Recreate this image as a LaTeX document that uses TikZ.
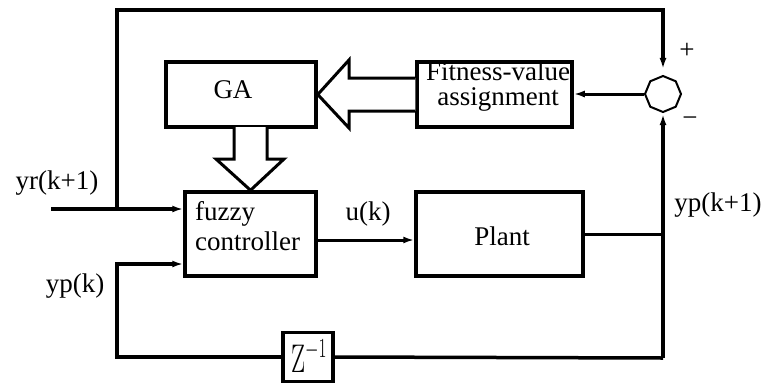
\documentclass[tikz,border=0pt]{standalone}
\usepackage{fontspec}
\setmainfont{Liberation Serif}
\newfontfamily\lmfont{Latin Modern Roman}
\usetikzlibrary{arrows.meta,shapes.geometric}
\begin{document}
\begin{tikzpicture}[x=1pt,y=-1pt,
  blk/.style={draw,line width=3.5pt,inner sep=0pt},
  wire/.style={line width=3.5pt},
  thinwire/.style={line width=3pt},
  arr/.style={-{Latex[length=11pt,width=7pt]}},
  txt/.style={font=\fontsize{27}{25}\selectfont,inner sep=0pt},
  fat/.style={line width=3pt,fill=white,line join=miter}]
\useasboundingbox (0,0) rectangle (765,386);

% blocks
\node[blk,minimum width=150pt,minimum height=65pt] (ga) at (241,94.5) {};
\node[blk,minimum width=155pt,minimum height=65pt] (fit) at (494.5,94.5) {};
\node[blk,minimum width=131pt,minimum height=84pt] (fuzzy) at (250.5,234) {};
\node[blk,minimum width=167pt,minimum height=84pt] (plant) at (499.5,234) {};
\node[blk,minimum width=50pt,minimum height=49pt] (z) at (308,357) {};
\node[draw,line width=2pt,regular polygon,regular polygon sides=8,
      regular polygon rotate=22.5,minimum size=36pt,inner sep=0pt] (sum) at (663,94) {};

% block texts (base anchor = baseline of the last line)
\node[txt,anchor=base] (gat) at (233,98) {GA};
\node[txt,anchor=base,align=center] (fitt) at (498,105) {Fitness-value\\assignment};
\node[txt,anchor=base west,align=left,font=\fontsize{27}{30}\selectfont] (fuzt) at (195,250) {fuzzy\\controller};
\node[txt,anchor=base] (plt) at (502,245) {Plant};
\node[inner sep=0pt,font=\lmfont\fontsize{25}{28}\selectfont] (zt) at (309,356) {\scalebox{1}[1.6]{Z$^{-1}$}};

% signal labels
\node[txt,anchor=base] (yr) at (57,189) {yr(k+1)};
\node[txt,anchor=base] (ypk) at (75,292) {yp(k)};
\node[txt,anchor=base] (ypk1) at (718,211) {yp(k+1)};
\node[txt,anchor=base] (uk) at (368,220) {u(k)};
\node[txt] (plus) at (687,51) {+};
\node[txt] (minus) at (690,122) {−};

% junction points
\coordinate (yrin) at (51,209);
\coordinate (yrj) at (117,209);
\coordinate (tr) at (663,10);
\coordinate (pj) at (663,234);
\coordinate (br) at (663,358);
\coordinate (ypin) at (117,264);
\coordinate (ukout) at (316,240);

% wide arrows between GA, fitness and controller
\draw[fat] (fit.west |- 0,78) -- (349,78) -- (349,60) -- (ga.east) -- (349,128) -- (349,111) -- (fit.west |- 0,111);
\draw[fat] (234,127) -- (234,159) -- (216,159) -- (fuzzy.north) -- (284,159) -- (267,159) -- (267,127);

% signal lines
\draw[wire,arr] (yrin) -- (fuzzy.west |- yrin);
\draw[wire,arr,shorten >=6pt] (yrj) |- (tr) -- (sum.north);
\draw[thinwire,arr] (sum.west) -- (fit.east |- sum.west);
\draw[thinwire,arr] (ukout) -- (plant.west |- ukout);
\draw[thinwire] (plant.east) -- (pj);
\draw[wire,arr,shorten >=1pt] (br) -- (sum.south);
\draw[wire] (br) -- (z.east);
\draw[wire,arr] (z.west) -| (ypin) -- (fuzzy.west |- ypin);
\end{tikzpicture}
\end{document}
